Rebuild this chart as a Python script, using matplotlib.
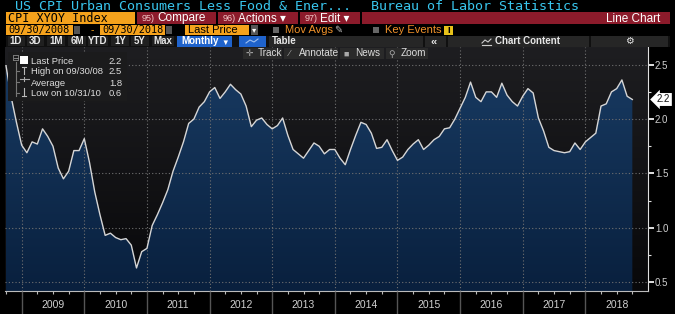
import numpy as np
import pandas as pd
import matplotlib
matplotlib.use('Agg')
import matplotlib.pyplot as plt
from matplotlib.patches import Rectangle, Polygon
from matplotlib.lines import Line2D
import matplotlib.transforms as mtransforms

plt.rcParams['font.family'] = ['Liberation Sans', 'DejaVu Sans']

# monthly core CPI YoY (%), Sep 2008 .. Sep 2018
v2008 = [2.49, 2.20, 1.97, 1.76]
v2009 = [1.69, 1.79, 1.77, 1.91, 1.84, 1.75, 1.55, 1.45, 1.52, 1.71, 1.71, 1.82]
v2010 = [1.60, 1.33, 1.12, 0.93, 0.95, 0.91, 0.89, 0.90, 0.84, 0.63, 0.78, 0.81]
v2011 = [1.02, 1.12, 1.23, 1.35, 1.52, 1.65, 1.79, 1.96, 2.00, 2.11, 2.16, 2.25]
v2012 = [2.29, 2.19, 2.25, 2.32, 2.27, 2.23, 2.12, 1.93, 1.99, 2.01, 1.95, 1.91]
v2013 = [1.94, 2.01, 1.85, 1.72, 1.68, 1.64, 1.71, 1.78, 1.75, 1.68, 1.72, 1.72]
v2014 = [1.64, 1.58, 1.72, 1.85, 1.97, 1.95, 1.87, 1.73, 1.74, 1.81, 1.71, 1.62]
v2015 = [1.65, 1.72, 1.77, 1.81, 1.72, 1.76, 1.81, 1.84, 1.91, 1.92, 2.00, 2.10]
v2016 = [2.20, 2.34, 2.20, 2.16, 2.25, 2.25, 2.20, 2.33, 2.22, 2.16, 2.12, 2.21]
v2017 = [2.28, 2.24, 2.01, 1.89, 1.74, 1.71, 1.70, 1.69, 1.70, 1.78, 1.72, 1.79]
v2018 = [1.83, 1.87, 2.12, 2.14, 2.25, 2.28, 2.36, 2.21, 2.18]

years = [2009, 2010, 2011, 2012, 2013, 2014, 2015, 2016, 2017, 2018]
yticks = [0.5, 1.0, 1.5, 2.0, 2.5]

values = np.array(v2008 + v2009 + v2010 + v2011 + v2012 + v2013 + v2014
                  + v2015 + v2016 + v2017 + v2018)
dates = pd.date_range('2008-09-30', periods=len(values), freq='ME')
x = dates.year + dates.month / 12.0

W, H = 675, 314
fig = plt.figure(figsize=(W / 100, H / 100), dpi=100, facecolor='black')


def rect(x0, y0, x1, y1, color, z=1):
    fig.add_artist(Rectangle((x0 / W, 1 - y1 / H), (x1 - x0) / W, (y1 - y0) / H,
                             transform=fig.transFigure, facecolor=color,
                             edgecolor='none', zorder=z))


def txt(px, py, s, z=3, **kw):
    kw.setdefault('va', 'baseline')
    fig.text(px / W, 1 - py / H, s, zorder=z, **kw)


def pline(xs, ys, color, lw=0.8, z=3):
    fig.add_artist(Line2D(np.array(xs) / W, 1 - np.array(ys) / H, color=color, lw=lw, zorder=z))


# ---- chart
ax = fig.add_axes([5 / W, 23 / H, 643 / W, 244 / H])
xlo, xhi = 2008.734, 2019.0
ylo, yhi = 0.418, 2.663
ax.set_xlim(xlo, xhi)
ax.set_ylim(ylo, yhi)
ax.set_facecolor('black')

t = np.linspace(0, 1, 200)[:, None]
top_bg, bot_bg = np.array([30, 30, 33]) / 255, np.array([8, 8, 10]) / 255
bg = (top_bg * (1 - t) + bot_bg * t)[:, None, :].repeat(2, axis=1)
ax.imshow(bg, extent=[xlo, xhi, ylo, yhi], aspect='auto', origin='upper', zorder=0)

top_f, bot_f = np.array([25, 60, 100]) / 255, np.array([9, 32, 62]) / 255
fg = (top_f * (1 - t) + bot_f * t)[:, None, :].repeat(2, axis=1)
im = ax.imshow(fg, extent=[xlo, xhi, ylo, yhi], aspect='auto', origin='upper', zorder=1)
verts = np.column_stack([np.r_[x[0], x, x[-1]], np.r_[ylo, values, ylo]])
clip = Polygon(verts, closed=True, transform=ax.transData, facecolor='none', edgecolor='none')
ax.add_patch(clip)
im.set_clip_path(clip)

ax.plot(x, values, color='#d6d6d6', lw=1.0, zorder=3)

ax.set_xticks(years)
ax.set_xticks([y + q for y in range(2008, 2019) for q in (0.25, 0.5, 0.75)
               if xlo < y + q < xhi], minor=True)
ax.set_xticklabels([])
ax.yaxis.tick_right()
ax.set_yticks(yticks)
ax.set_yticks([0.75, 1.25, 1.75, 2.25], minor=True)
ax.set_yticklabels([f'{v:.1f}' for v in yticks])
ax.grid(True, which='major', color='#707070', ls=(0, (1, 2)), lw=0.8)
ax.set_axisbelow(False)
ax.tick_params(axis='x', which='major', length=17, width=1, color='#555555', direction='out')
ax.tick_params(axis='x', which='minor', length=2, width=0.8, color='#bbbbbb', direction='out')
ax.tick_params(axis='y', which='major', length=4, width=1.4, color='#e0e0e0',
               labelcolor='#d0d0d0', labelsize=7, pad=1)
ax.tick_params(axis='y', which='minor', length=2, width=0.8, color='#e0e0e0')
for s in ('top', 'left'):
    ax.spines[s].set_visible(False)
ax.spines['right'].set_color('#e0e0e0')
ax.spines['bottom'].set_color('#bbbbbb')

trans = mtransforms.blended_transform_factory(ax.transData, ax.transAxes)
for y in years:
    ax.text(y + 0.5, -0.058, str(y), transform=trans, ha='center', va='center',
            color='#d0d0d0', fontsize=7.5)

# last value tag
ax.text(1.014, values[-1], f'{values[-1]:.1f}', transform=ax.get_yaxis_transform(),
        ha='left', va='center', fontsize=7, color='#111111',
        bbox=dict(boxstyle='larrow,pad=0.15', fc='white', ec='none'))

# ---- legend box
rect(8, 52, 127, 101, '#1b1b1c', z=2)
hi_i, lo_i = int(values.argmax()), int(values.argmin())
rows = [('Last Price', values[-1]),
        ('High on ' + dates[hi_i].strftime('%m/%d/%y'), values[hi_i]),
        ('Average', values.mean()),
        ('Low on ' + dates[lo_i].strftime('%m/%d/%y'), values[lo_i])]
for i, (lab, val) in enumerate(rows):
    yb = 63.5 + i * 11
    txt(31, yb, lab, color='#dddddd', fontsize=6.8)
    txt(122, yb, f'{val:.1f}', color='#dddddd', fontsize=6.8, ha='right')
pline([16, 16], [62, 96], '#777777')
for yy in (71, 82, 93):
    pline([16, 19], [yy, yy], '#777777')
rect(13, 55, 19, 61, '#777777', z=3)
rect(14, 56, 18, 60, '#1b1b1c', z=3)
pline([14.5, 17.5], [58, 58], '#999999', lw=0.6, z=4)
rect(20, 56, 28, 64, 'white', z=3)
pline([24, 24], [67, 74], '#bbbbbb')
pline([22, 26], [67, 67], '#bbbbbb')
pline([20, 29], [79, 79], '#aaaaaa')
pline([24, 24], [77, 81], '#aaaaaa')
pline([24, 24], [88, 96], '#bbbbbb')
pline([22, 26], [96, 96], '#bbbbbb')

# ---- header rows
cyan = '#39c6ee'
orange = '#f5a21c'
red = '#8c1b2b'
mono = 'DejaVu Sans Mono'
txt(15, 9.5, 'US CPI Urban Consumers Less Food & Ener...', color=cyan, fontsize=9.6, family=mono)
txt(371, 9.5, 'Bureau of Labor Statistics', color=cyan, fontsize=9.6, family=mono)

rect(6, 12, 135, 23.5, orange)
txt(8, 21.5, 'CPI XYOY Index', color='black', fontsize=8.5, family=mono)
for x0, x1, num, lab in [(137, 216, '95)', 'Compare'), (218, 298, '96)', 'Actions ▾'),
                         (300, 360, '97)', 'Edit ▾')]:
    rect(x0, 12, x1, 23.5, red)
    txt(x0 + 5, 21, num, color='#f2c8c8', fontsize=6.5)
    txt(x0 + 20, 21.5, lab, color='white', fontsize=8.5)
rect(362, 12, 670, 23.5, red)
txt(660, 21.5, 'Line Chart', color='white', fontsize=8.5, ha='right')

rect(6, 25, 73, 34.5, orange)
txt(8, 32.8, '09/30/2008', color='black', fontsize=7.4, family=mono)
rect(74, 26, 80, 33.5, '#555555')
txt(92, 32.8, '-', color=orange, fontsize=7.4, ha='center')
rect(100, 25, 165, 34.5, orange)
txt(102, 32.8, '09/30/2018', color='black', fontsize=7.4, family=mono)
rect(166, 26, 172, 33.5, '#555555')
rect(185, 25, 249, 34.5, orange)
txt(188, 32.8, 'Last Price', color='black', fontsize=8)
rect(251, 25, 258, 34.5, '#555555')
txt(254.5, 32.5, '▾', color='white', fontsize=6, ha='center')
rect(273, 27, 279, 33, '#666666')
txt(285, 32.8, 'Mov Avgs', color='#f0922a', fontsize=8)
txt(338, 32.8, '✎', color='#bbbbbb', fontsize=7, ha='center')
rect(373, 27, 379, 33, '#666666')
txt(385, 32.8, 'Key Events', color='#f0922a', fontsize=8)
rect(444, 26, 453, 34.5, '#e8c21a')
txt(448.5, 32.8, 'i', color='black', fontsize=7, ha='center', weight='bold')

rect(6, 36, 670, 46.5, '#101010', z=0.5)
periods = [('1D', 16, 8, 25), ('3D', 35, 27, 44), ('1M', 56, 47, 65), ('6M', 77, 68, 86),
           ('YTD', 98, 88, 108), ('1Y', 120, 111, 129), ('5Y', 140, 131, 149),
           ('Max', 163, 152, 174)]
for lab, cx, c0, c1 in periods:
    rect(c0, 36.5, c1, 46, '#202020', z=0.6)
    txt(cx, 44.5, lab, color='#e6e6e6', fontsize=7, ha='center', weight='bold')
rect(177, 36, 232, 46.5, '#1f63cc')
txt(181, 44.5, 'Monthly', color='white', fontsize=7, weight='bold')
txt(225, 44.5, '▼', color='white', fontsize=5.5, ha='center')
rect(239, 36, 266, 46.5, '#1f63cc')
pline([246, 250, 254, 258], [43, 40, 42, 39], '#9ec0f0')
rect(269, 36, 423, 46.5, '#262626')
txt(272, 44.5, 'Table', color='#e6e6e6', fontsize=7, weight='bold')
rect(425, 36, 446, 46.5, '#262626')
txt(434, 44.5, '«', color='#e6e6e6', fontsize=8, ha='center', weight='bold')
rect(448, 36, 589, 46.5, '#262626')
pline([482, 485, 488, 491], [43, 40, 42, 39], '#cccccc')
pline([482, 491], [44.5, 44.5], '#cccccc')
txt(495, 44.5, 'Chart Content', color='#e6e6e6', fontsize=7, weight='bold')
rect(591, 36, 668, 46.5, '#262626')
txt(629, 44.5, '⚙', color='#e6e6e6', fontsize=7, ha='center')

for x0, x1, icon, lab in [(243, 282, '✛', 'Track'), (284, 338, '⁄', 'Annotate'),
                          (340, 384, '■', 'News'), (386, 428, '⚲', 'Zoom')]:
    rect(x0, 48, x1, 58.5, '#2a2a2a', z=2)
    txt(x0 + 6, 56.5, icon, color='#aaaaaa', fontsize=6.5, ha='center')
    txt(x0 + 15, 56.5, lab, color='#dddddd', fontsize=7.2)

fig.savefig('out.png', dpi=100, facecolor='black')
